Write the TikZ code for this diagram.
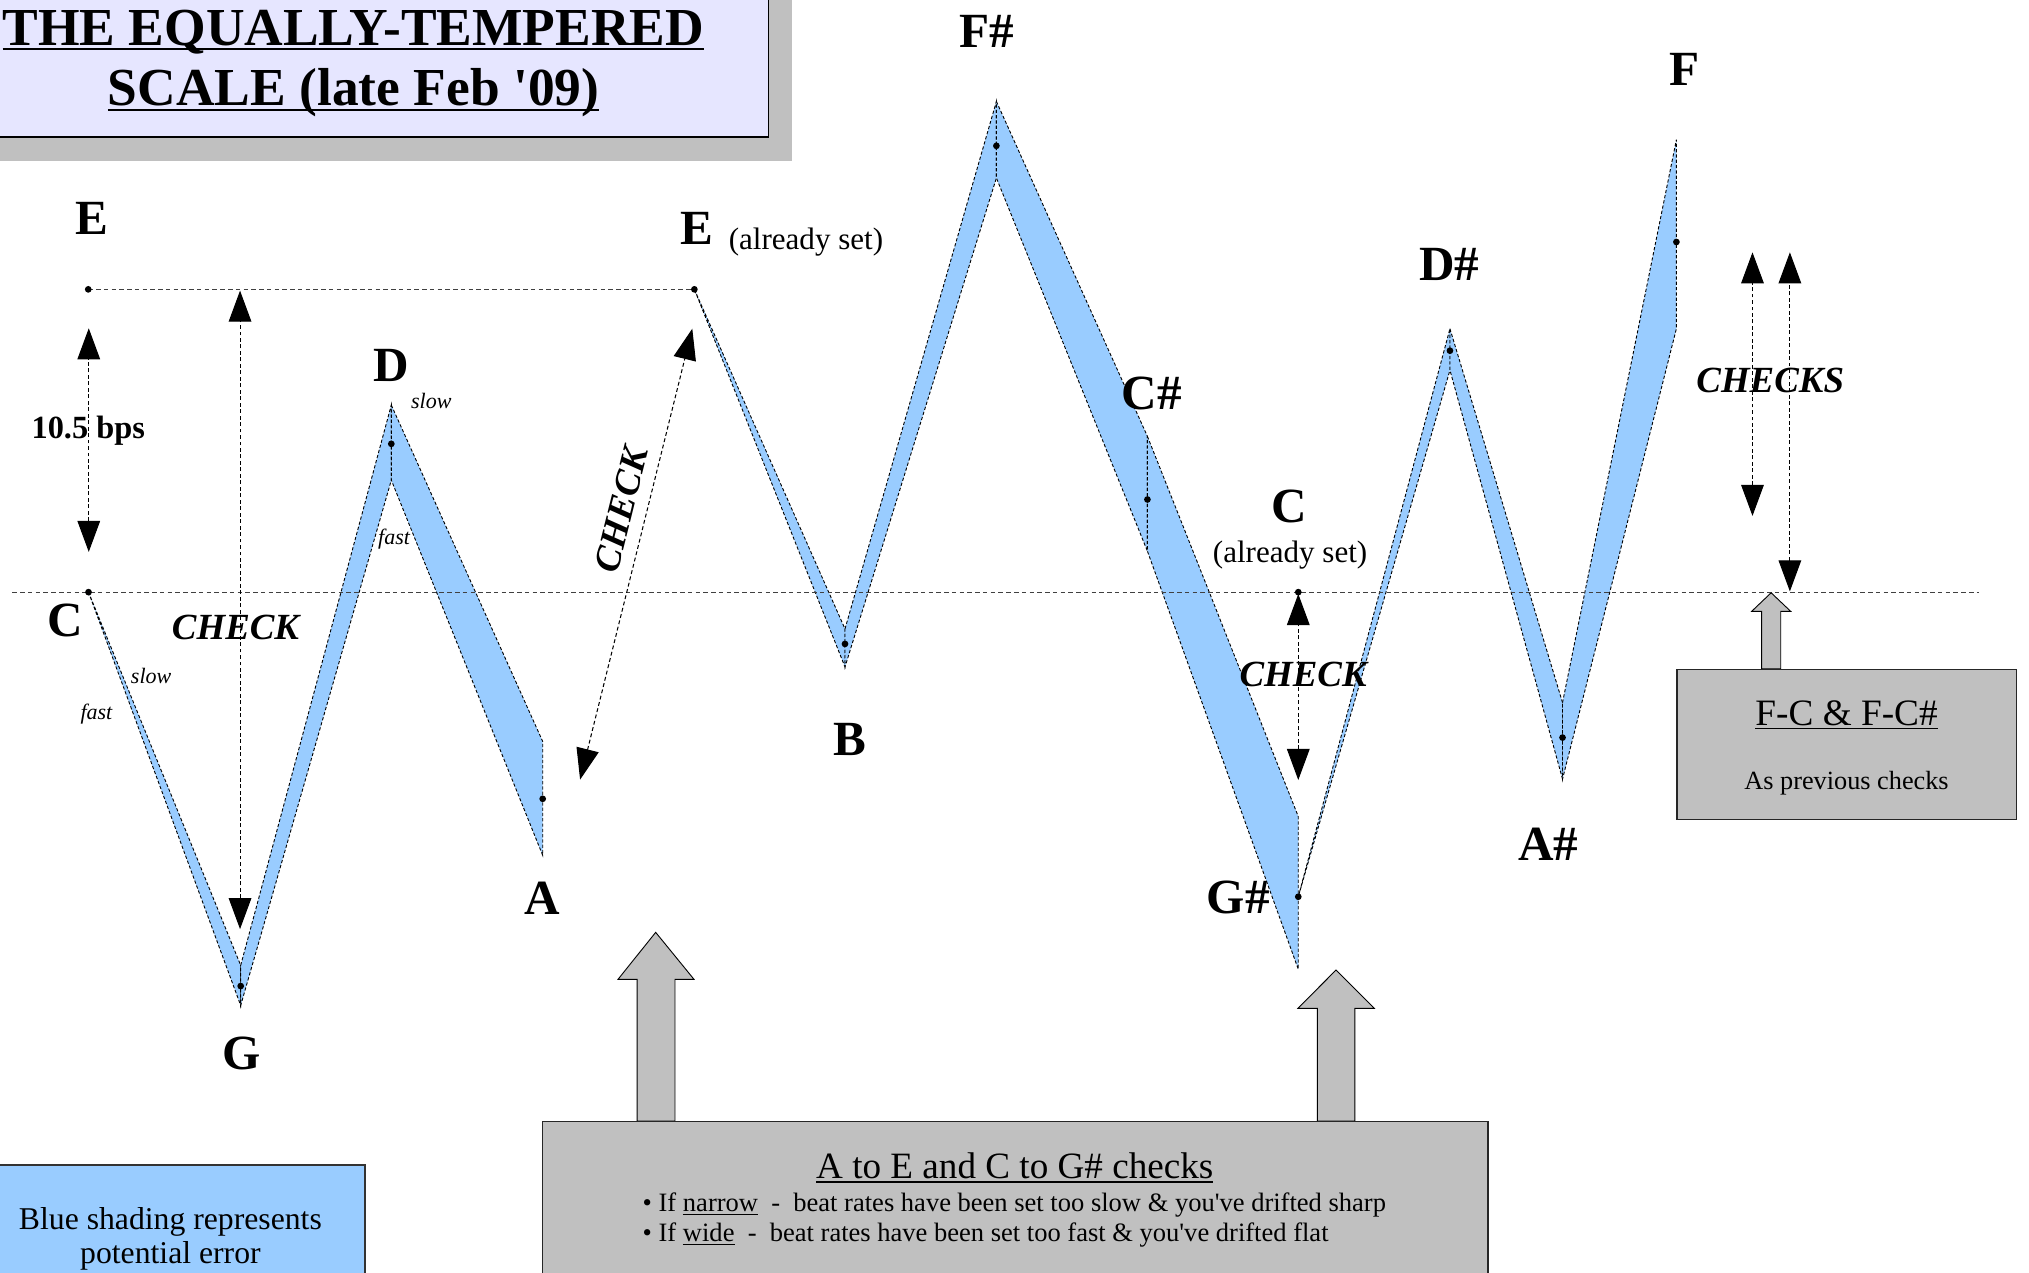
\documentclass[tikz,border=0pt]{standalone}
\usepackage{fontspec}
\setmainfont{Liberation Serif}
\usetikzlibrary{arrows.meta}
\definecolor{bandblue}{HTML}{99CCFF}
\definecolor{titlebg}{HTML}{E6E6FF}
\definecolor{boxgray}{HTML}{C0C0C0}
\newsavebox\ulbox
\newcommand\uln[3]{\sbox\ulbox{#1}\rlap{\rule[-#2]{\wd\ulbox}{#3}}\usebox\ulbox}
\tikzset{
  lbl/.style={font=\fontsize{38}{40}\selectfont\bfseries, inner sep=0pt, anchor=base},
  chk/.style={font=\fontsize{28.5}{30}\selectfont\bfseries\itshape, inner sep=0pt, anchor=base},
  sm/.style={font=\fontsize{17}{18}\selectfont\itshape, inner sep=0pt, anchor=base},
  settxt/.style={font=\fontsize{24}{26}\selectfont, inner sep=0pt, anchor=base},
  band/.style={fill=bandblue, draw=black, line width=0.7pt, dash pattern=on 2.5pt off 1.6pt, line join=miter},
  guide/.style={draw=black!75, line width=0.8pt, dash pattern=on 3.5pt off 2.5pt},
  dimarrow/.style={draw=black, line width=0.8pt, dash pattern=on 3pt off 2pt,
     >={Triangle[length=24pt,width=17.5pt]}, <->},
  blockarrow/.style={fill=boxgray, draw=black, line width=0.7pt},
  infobox/.style={fill=boxgray, draw=black!85, line width=1pt, inner sep=0pt},
}
\begin{document}
\begin{tikzpicture}[x=1pt,y=-1pt]
\useasboundingbox (0,0) rectangle (1568,983);
% ---------- title ----------
\node[fill=boxgray, inner sep=0pt, minimum width=622pt, minimum height=135pt, anchor=south east] (tshadow) at (612,125) {};
\node[fill=titlebg, draw=black, line width=1pt, inner sep=0pt, minimum width=604.6pt, minimum height=116.4pt, anchor=south east] (tbox) at (594.6,106.4) {};
\node[anchor=base, inner sep=0pt, font=\fontsize{41.3}{43}\selectfont\bfseries] (t1) at (273,34.8) {\uln{THE EQUALLY-TEMPERED}{4.2pt}{2pt}};
\node[anchor=base, inner sep=0pt, font=\fontsize{41.3}{43}\selectfont\bfseries] (t2) at (273.3,81.9) {\uln{SCALE (late Feb \textquotesingle 09)}{4.2pt}{2pt}};
% ---------- note coordinates ----------
\coordinate (Cdot) at (68.4,457.6);
\coordinate (Eldot) at (68.2,223.6);
\coordinate (Erdot) at (536.6,223.6);
\coordinate (Gt) at (186,746); \coordinate (Gb) at (186,777); \coordinate (Gdot) at (186,762);
\coordinate (Dt) at (302.4,313); \coordinate (Db) at (302.4,371); \coordinate (Ddot) at (302.4,343);
\coordinate (At) at (419.4,573); \coordinate (Ab) at (419.4,661); \coordinate (Adot) at (419.4,617.3);
\coordinate (Bt) at (653,486); \coordinate (Bb) at (653,515.4); \coordinate (Bdot) at (653,497.6);
\coordinate (Fst) at (770,78.4); \coordinate (Fsb) at (770,137.5); \coordinate (Fsdot) at (770,112.7);
\coordinate (Cst) at (886.7,337.2); \coordinate (Csb) at (886.7,425.9); \coordinate (Csdot) at (886.7,386);
\coordinate (Gst) at (1003.3,631); \coordinate (Gsb) at (1003.3,749); \coordinate (Gsdot) at (1003.3,693);
\coordinate (Dst) at (1120.5,254); \coordinate (Dsb) at (1120.5,286); \coordinate (Dsdot) at (1120.5,271);
\coordinate (Ast) at (1207.5,543); \coordinate (Asb) at (1207.5,602); \coordinate (Asdot) at (1207.5,570);
\coordinate (Ft) at (1295.5,108); \coordinate (Fb) at (1295.5,254); \coordinate (Fdot) at (1295.5,187);
\coordinate (Crdot) at (1003.3,457.6);
\coordinate (Cl) at (9.6,457.6); \coordinate (Cr) at (1529.6,457.6);
% ---------- bands ----------
\draw[band] (Cdot) -- (Gt) -- (Gb) -- cycle;
\draw[band] (Gt) -- (Dt) -- (Db) -- (Gb) -- cycle;
\draw[band] (Dt) -- (At) -- (Ab) -- (Db) -- cycle;
\draw[band] (Erdot) -- (Bt) -- (Bb) -- cycle;
\draw[band] (Bt) -- (Fst) -- (Fsb) -- (Bb) -- cycle;
\draw[band] (Fst) -- (Cst) -- (Csb) -- (Fsb) -- cycle;
\draw[band] (Cst) -- (Gst) -- (Gsb) -- (Csb) -- cycle;
\draw[band] (Gsdot) -- (Dst) -- (Dsb) -- cycle;
\draw[band] (Dst) -- (Ast) -- (Asb) -- (Dsb) -- cycle;
\draw[band] (Ast) -- (Ft) -- (Fb) -- (Asb) -- cycle;
% ---------- guide lines ----------
\draw[guide] (Cl) -- (Cr);
\draw[guide] (Eldot) -- (Erdot);
% ---------- dots ----------
\foreach \p in {Cdot,Eldot,Erdot,Gdot,Ddot,Adot,Bdot,Fsdot,Csdot,Gsdot,Dsdot,Asdot,Fdot,Crdot}
  \fill (\p) circle[radius=2.6pt];
% ---------- check arrows ----------
\coordinate (bpsT) at (68.6,253.7); \coordinate (bpsB) at (68.6,426.5);
\draw[dimarrow] (bpsB) -- (bpsT);
\coordinate (chk1T) at (185.5,224.6); \coordinate (chk1B) at (185.5,718);
\draw[dimarrow] (chk1B) -- (chk1T);
\coordinate (chk2T) at (535,254); \coordinate (chk2B) at (448.3,602.5);
\draw[dimarrow] (chk2B) -- (chk2T);
\coordinate (chk3T) at (1003.3,459); \coordinate (chk3B) at (1003.3,602.8);
\draw[dimarrow] (chk3B) -- (chk3T);
\coordinate (chk4T) at (1354.3,195); \coordinate (chk4B) at (1354.3,398.7);
\draw[dimarrow] (chk4B) -- (chk4T);
\coordinate (chk5T) at (1383.2,195); \coordinate (chk5B) at (1383.2,457);
\draw[dimarrow] (chk5B) -- (chk5T);
% ---------- labels ----------
\node[lbl] (lE1) at (71,181.6) {E};
\node[lbl] (lE2) at (538.2,189.3) {E};
\node[settxt, anchor=base west] (lE2s) at (563,192.7) {(already set)};
\node[lbl] (lFs) at (762.5,37) {F\#};
\node[lbl] (lD) at (302.7,295) {D};
\node[lbl] (lCs) at (890,316.5) {C\#};
\node[lbl] (lDs) at (1120,217) {D\#};
\node[lbl] (lF) at (1301.5,65.7) {F};
\node[lbl] (lC1) at (50.5,492) {C};
\node[lbl] (lG) at (186.5,826.7) {G};
\node[lbl] (lA) at (419,707) {A};
\node[lbl] (lB) at (657,583.6) {B};
\node[lbl] (lC2) at (996,404) {C};
\node[settxt] (lC2s) at (997,435) {(already set)};
\node[lbl] (lGs) at (957,706) {G\#};
\node[lbl] (lAs) at (1196.6,665) {A\#};
\node[font=\fontsize{25}{27}\selectfont\bfseries, inner sep=0pt, anchor=base] (bps) at (68.2,338.5) {10.5 bps};
\node[chk] (c1) at (182,494) {CHECK};
\node[chk, anchor=center, rotate=76] (c2) at (480,394) {CHECK};
\node[chk] (c3) at (1007,530.8) {CHECK};
\node[chk] (c4) at (1368,303) {CHECKS};
\node[sm] (s1) at (116.8,528) {slow};
\node[sm] (f1) at (74.5,556) {fast};
\node[sm, anchor=base west] (s2) at (317.5,316) {slow};
\node[sm] (f2) at (304.5,421) {fast};
% ---------- block arrows ----------
\draw[blockarrow] (492.3,866.3) -- (492.3,756.8) -- (477.6,756.8) -- (506.7,720.5) -- (536.3,756.8) -- (521.6,756.8) -- (521.6,866.3) -- cycle;
\draw[blockarrow] (1018,866.3) -- (1018,779.2) -- (1003,779.2) -- (1032.5,749.6) -- (1062,779.2) -- (1047,779.2) -- (1047,866.3) -- cycle;
\draw[blockarrow] (1361.4,516.8) -- (1361.4,472.4) -- (1353.7,472.4) -- (1368.7,458.1) -- (1383.8,472.4) -- (1376.1,472.4) -- (1376.1,516.8) -- cycle;
% ---------- boxes ----------
\node[infobox, minimum width=730.5pt, minimum height=140pt, anchor=north west] (chkbox) at (419,866.3) {};
\node[anchor=base, inner sep=0pt, font=\fontsize{28.7}{30}\selectfont] (chkttl) at (784.2,910.5) {\uln{A to E and C to G\# checks}{3.6pt}{1.2pt}};
\node[anchor=base west, inner sep=0pt, font=\fontsize{20.5}{22}\selectfont] (bul1) at (496.5,936.4) {\textbullet\ If \uln{narrow}{2.6pt}{0.9pt}\ \ -\ \ beat rates have been set too slow \& you\textquotesingle ve drifted sharp};
\node[anchor=base west, inner sep=0pt, font=\fontsize{20.5}{22}\selectfont] (bul2) at (496.5,959.6) {\textbullet\ If \uln{wide}{2.6pt}{0.9pt}\ \ -\ \ beat rates have been set too fast \& you\textquotesingle ve drifted flat};
\node[infobox, minimum width=262.5pt, minimum height=116.2pt, anchor=north west] (fcbox) at (1295.5,516.8) {};
\node[anchor=base, inner sep=0pt, font=\fontsize{28.8}{30}\selectfont] (fcttl) at (1427,561) {\uln{F-C \& F-C\#}{2.6pt}{1.1pt}};
\node[anchor=base, inner sep=0pt, font=\fontsize{20.3}{22}\selectfont] (fctxt) at (1427,610) {As previous checks};
\node[fill=bandblue, draw=black!80, line width=1pt, inner sep=0pt, minimum width=291.6pt, minimum height=110pt, anchor=north west] (legend) at (-10,899.8) {};
\node[anchor=base, inner sep=0pt, font=\fontsize{24.5}{26}\selectfont] (lg1) at (131.7,949.8) {Blue shading represents};
\node[anchor=base, inner sep=0pt, font=\fontsize{24.5}{26}\selectfont] (lg2) at (131.7,976.3) {potential error};
\end{tikzpicture}
\end{document}
